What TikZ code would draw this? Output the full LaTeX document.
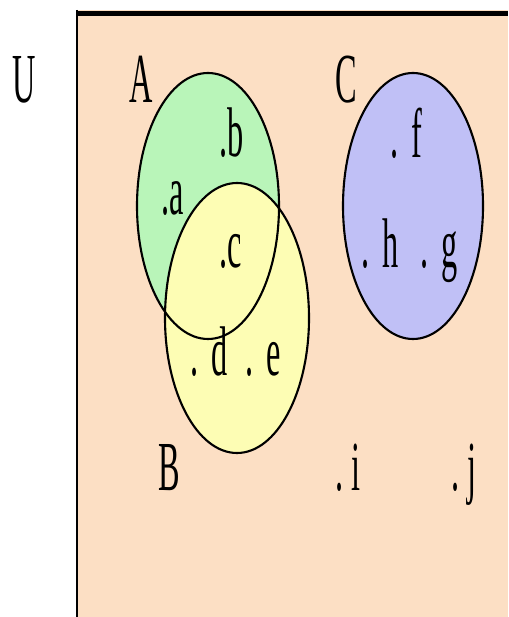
\documentclass[tikz,border=0pt]{standalone}
\usepackage{fontspec}
\setmainfont{Liberation Serif}
\usepackage{xcolor}
\usepackage{graphicx}
\usetikzlibrary{calc}
\definecolor{peach}{HTML}{FCDFC4}
\definecolor{setgreen}{HTML}{B9F5B9}
\definecolor{setyellow}{HTML}{FDFDB4}
\definecolor{setlilac}{HTML}{C0C0F6}
\newcommand{\narrow}[1]{\scalebox{0.46}[1]{#1}}
\newcommand{\gap}{\hspace{.4em}}

\begin{document}
\begin{tikzpicture}[
  x=0.02cm,y=0.02cm,
  lbl/.style={font=\fontsize{40}{40}\selectfont,inner sep=0pt,anchor=base west},
  rim/.style={draw=black,line width=1.2pt}
]
\useasboundingbox (0,0) rectangle (508,-617);
% universe
\fill[peach] (77,-10) rectangle (508,-617);
\draw[line width=3.4pt] (77,-13.5) -- (508,-13.5);
\draw[line width=1.1pt] (77,-10) -- (77,-617);
% the three sets
\fill[setgreen] (208,-206) ellipse (71 and 133);
\fill[setyellow] (237,-318) ellipse (72 and 135);
\fill[setlilac] (413,-206) ellipse (70 and 133);
\draw[rim] (208,-206) ellipse (71 and 133);
\draw[rim] (237,-318) ellipse (72 and 135);
\draw[rim] (413,-206) ellipse (70 and 133);
% set names
\node[lbl] (nameU) at (12,-103) {\narrow{U}};
\node[lbl] (nameA) at (129,-103) {\narrow{A}};
\node[lbl] (nameC) at (335,-103) {\narrow{C}};
\node[lbl] (nameB) at (158,-490) {\narrow{B}};
% elements
\node[lbl] (elb) at (219,-157) {\narrow{.b}};
\node[lbl] (ela) at (161,-215) {\narrow{.a}};
\node[lbl] (elc) at (219,-268) {\narrow{.c}};
\node[lbl] (eld) at (190,-375) {\narrow{.\gap d}};
\node[lbl] (ele) at (245,-375) {\narrow{.\gap e}};
\node[lbl] (elf) at (390,-158) {\narrow{.\gap f}};
\node[lbl] (elh) at (361,-268) {\narrow{.\gap h}};
\node[lbl] (elg) at (420,-268) {\narrow{.\gap g}};
\node[lbl] (eli) at (335,-490) {\narrow{.\hspace{.25em}i}};
\node[lbl] (elj) at (451,-490) {\narrow{.\hspace{.25em}j}};
\end{tikzpicture}
\end{document}
